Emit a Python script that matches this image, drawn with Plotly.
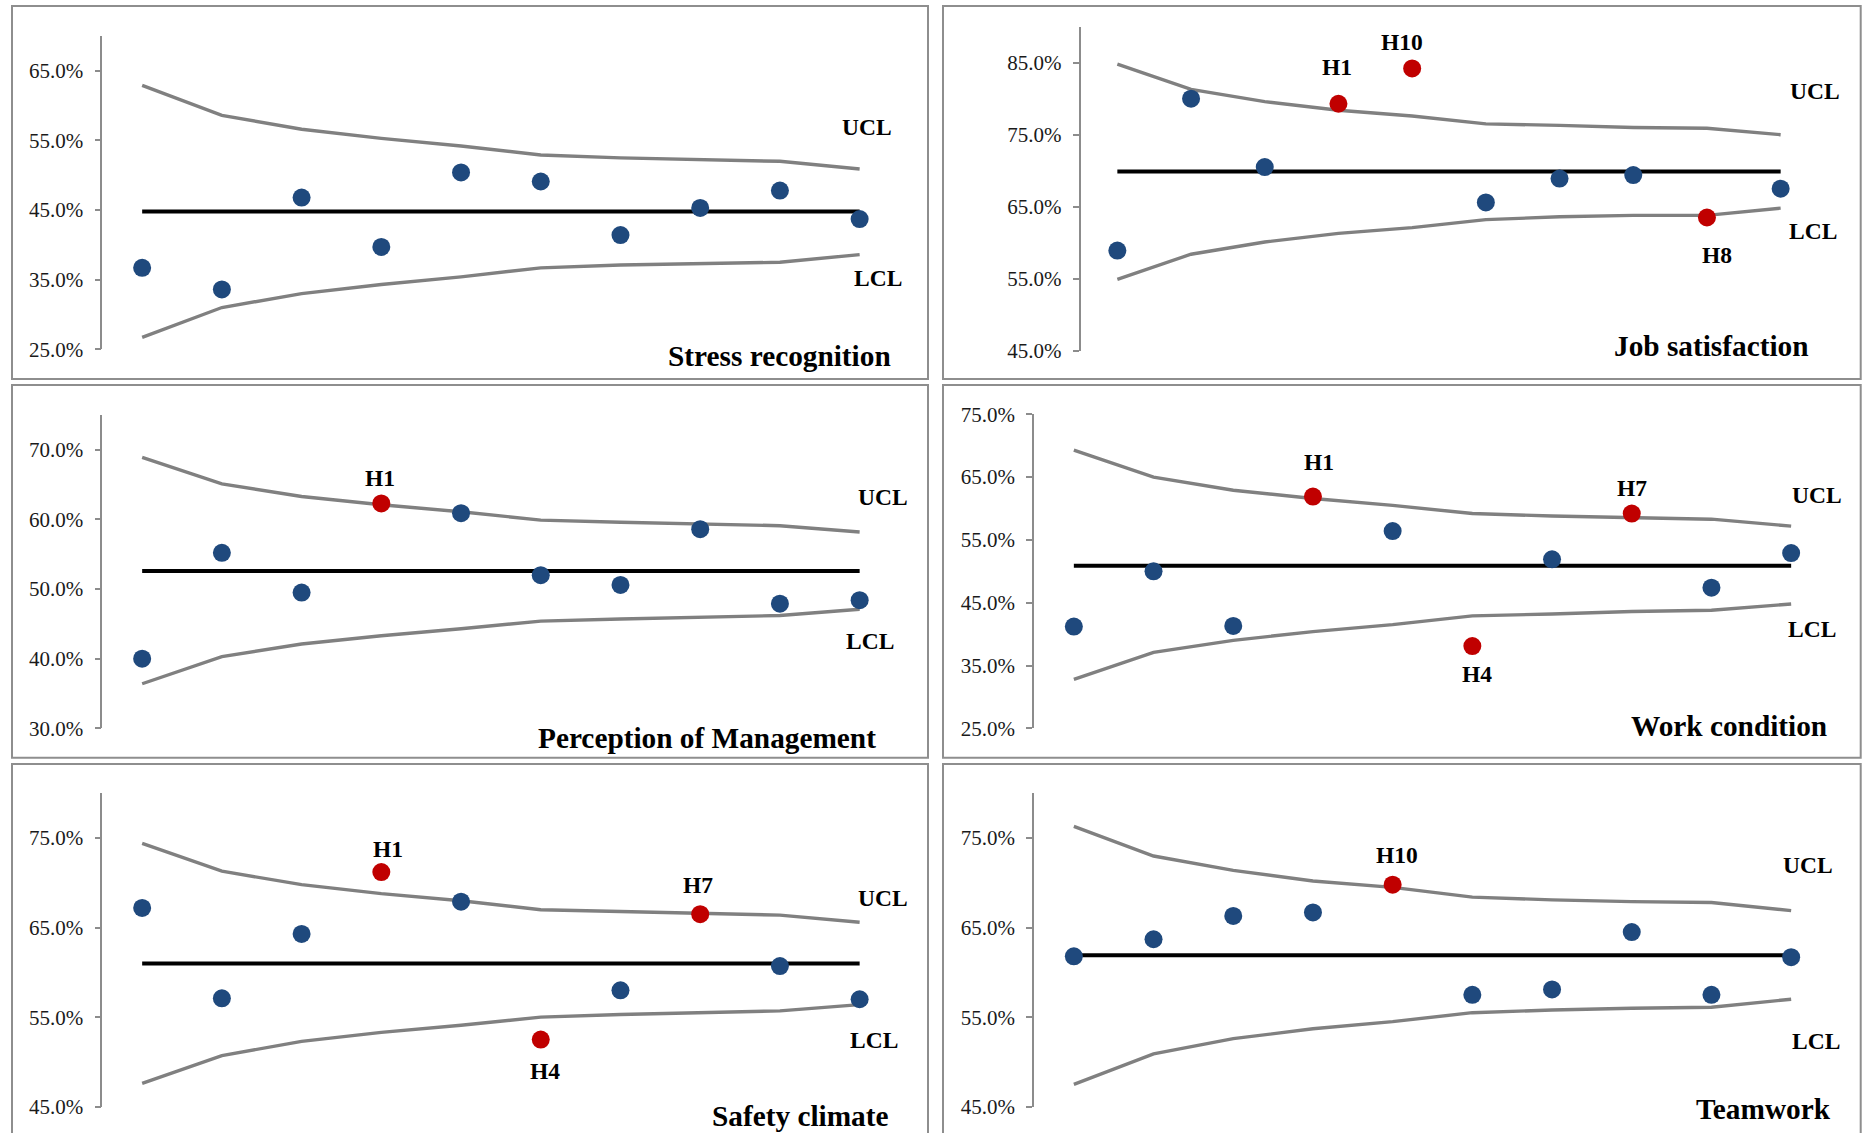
import plotly.graph_objects as go

# ---------------------------------------------------------------- data
# Ten hospitals per panel, ordered by sample size (control limits narrow left to right)
positions = [1, 2, 3, 4, 5, 6, 7, 8, 9, 10]

stress_values = [36.7, 33.6, 46.8, 39.7, 50.4, 49.1, 41.4, 45.3, 47.8, 43.7]
stress_center = 44.8
stress_ucl = [62.9, 58.6, 56.6, 55.3, 54.2, 52.9, 52.5, 52.2, 52.0, 50.9]
stress_lcl = [26.7, 31.0, 33.0, 34.3, 35.4, 36.7, 37.1, 37.3, 37.5, 38.6]
stress_ticks = [25, 35, 45, 55, 65]
stress_flag_idx = []
stress_flag_text = []

job_values = [58.9, 80.0, 70.5, 79.3, 84.2, 65.6, 68.9, 69.4, 63.5, 67.5]
job_center = 69.9
job_ucl = [84.8, 81.3, 79.6, 78.4, 77.6, 76.5, 76.3, 76.0, 75.9, 75.0]
job_lcl = [54.9, 58.4, 60.1, 61.3, 62.1, 63.2, 63.6, 63.8, 63.8, 64.8]
job_ticks = [45, 55, 65, 75, 85]
job_flag_idx = [3, 4, 8]
job_flag_text = ["H1", "H10", "H8"]

mgmt_values = [40.0, 55.2, 49.5, 62.3, 60.9, 52.0, 50.6, 58.6, 47.9, 48.4]
mgmt_center = 52.6
mgmt_ucl = [68.9, 65.1, 63.3, 62.1, 61.1, 59.9, 59.6, 59.3, 59.1, 58.2]
mgmt_lcl = [36.4, 40.3, 42.1, 43.3, 44.3, 45.4, 45.7, 46.0, 46.2, 47.1]
mgmt_ticks = [30, 40, 50, 60, 70]
mgmt_flag_idx = [3]
mgmt_flag_text = ["H1"]

work_values = [41.2, 50.0, 41.3, 61.9, 56.4, 38.1, 51.9, 59.2, 47.4, 52.9]
work_center = 50.9
work_ucl = [69.3, 65.0, 62.9, 61.6, 60.5, 59.2, 58.8, 58.5, 58.3, 57.2]
work_lcl = [32.8, 37.1, 39.0, 40.4, 41.5, 42.9, 43.2, 43.6, 43.8, 44.8]
work_ticks = [25, 35, 45, 55, 65, 75]
work_flag_idx = [3, 5, 7]
work_flag_text = ["H1", "H4", "H7"]

safety_values = [67.2, 57.1, 64.3, 71.2, 67.9, 52.5, 58.0, 66.5, 60.7, 57.0]
safety_center = 61.0
safety_ucl = [74.4, 71.3, 69.8, 68.8, 68.0, 67.0, 66.8, 66.6, 66.4, 65.6]
safety_lcl = [47.6, 50.7, 52.3, 53.3, 54.1, 55.0, 55.3, 55.5, 55.7, 56.4]
safety_ticks = [45, 55, 65, 75]
safety_flag_idx = [3, 5, 7]
safety_flag_text = ["H1", "H4", "H7"]

team_values = [61.8, 63.7, 66.3, 66.7, 69.8, 57.5, 58.1, 64.5, 57.5, 61.7]
team_center = 61.9
team_ucl = [76.3, 73.0, 71.4, 70.2, 69.5, 68.4, 68.1, 67.9, 67.8, 66.9]
team_lcl = [47.5, 50.9, 52.6, 53.7, 54.5, 55.5, 55.8, 56.0, 56.1, 57.0]
team_ticks = [45, 55, 65, 75]
team_flag_idx = [4]
team_flag_text = ["H10"]

# ---------------------------------------------------------------- styling
W, H = 1865, 1133
FONT = "Liberation Serif, Times New Roman, serif"
BLUE = "#1F497D"
RED = "#C00000"
LIMIT_GREY = "#808080"
AXIS_GREY = "#8C8C8C"
FRAME_GREY = "#8E8E8E"


def px_x(x):
    return x / W


def px_y(y):
    return 1 - y / H


panels = [
    dict(title="Stress recognition", values=stress_values, center=stress_center,
         ucl=stress_ucl, lcl=stress_lcl, ticks=stress_ticks, yrange=[25, 70],
         flag_idx=stress_flag_idx, flag_text=stress_flag_text,
         dom_x=(102.3, 899.5), dom_y=(36, 349.3),
         ucl_pos=(867, 126.7), lcl_pos=(877.7, 278.3), title_pos=(779.3, 356),
         offsets=[]),
    dict(title="Job satisfaction", values=job_values, center=job_center,
         ucl=job_ucl, lcl=job_lcl, ticks=job_ticks, yrange=[45, 90],
         flag_idx=job_flag_idx, flag_text=job_flag_text,
         dom_x=(1080.5, 1817.5), dom_y=(26.7, 350.7),
         ucl_pos=(1814.7, 90.7), lcl_pos=(1812.5, 231), title_pos=(1711.7, 345.7),
         offsets=[(-1, -37), (-10, -26), (10, 37)]),
    dict(title="Perception of Management", values=mgmt_values, center=mgmt_center,
         ucl=mgmt_ucl, lcl=mgmt_lcl, ticks=mgmt_ticks, yrange=[30, 75],
         flag_idx=mgmt_flag_idx, flag_text=mgmt_flag_text,
         dom_x=(102.3, 899.5), dom_y=(415, 728.3),
         ucl_pos=(882.8, 497), lcl_pos=(870, 641.3), title_pos=(706.5, 738),
         offsets=[(-1.5, -25.5)]),
    dict(title="Work condition", values=work_values, center=work_center,
         ucl=work_ucl, lcl=work_lcl, ticks=work_ticks, yrange=[25, 75],
         flag_idx=work_flag_idx, flag_text=work_flag_text,
         dom_x=(1034, 1831), dom_y=(414.3, 728.3),
         ucl_pos=(1817.3, 495.3), lcl_pos=(1812, 628.7), title_pos=(1729.2, 725.7),
         offsets=[(6, -34.5), (5, 28), (0, -26)]),
    dict(title="Safety climate", values=safety_values, center=safety_center,
         ucl=safety_ucl, lcl=safety_lcl, ticks=safety_ticks, yrange=[45, 80],
         flag_idx=safety_flag_idx, flag_text=safety_flag_text,
         dom_x=(102.3, 899.5), dom_y=(793.3, 1106.7),
         ucl_pos=(882.8, 897.7), lcl_pos=(873.8, 1040), title_pos=(800.4, 1116),
         offsets=[(7, -22.7), (4, 31.6), (-2, -29)]),
    dict(title="Teamwork", values=team_values, center=team_center,
         ucl=team_ucl, lcl=team_lcl, ticks=team_ticks, yrange=[45, 80],
         flag_idx=team_flag_idx, flag_text=team_flag_text,
         dom_x=(1034, 1831), dom_y=(793.3, 1106.7),
         ucl_pos=(1807.7, 865), lcl_pos=(1815.8, 1041), title_pos=(1763.3, 1109.3),
         offsets=[(4, -30)]),
]

fig = go.Figure()
annotations = []
shapes = []
layout_axes = {}

for i, p in enumerate(panels, start=1):
    xa = "x" if i == 1 else f"x{i}"
    ya = "y" if i == 1 else f"y{i}"
    xkey = "xaxis" if i == 1 else f"xaxis{i}"
    ykey = "yaxis" if i == 1 else f"yaxis{i}"

    # control limits
    for limit in (p["ucl"], p["lcl"]):
        fig.add_trace(go.Scatter(
            x=positions, y=limit, mode="lines", xaxis=xa, yaxis=ya,
            line=dict(color=LIMIT_GREY, width=3.4), hoverinfo="skip",
            showlegend=False))
    # centre line
    fig.add_trace(go.Scatter(
        x=[positions[0], positions[-1]], y=[p["center"], p["center"]],
        mode="lines", xaxis=xa, yaxis=ya,
        line=dict(color="black", width=4), hoverinfo="skip", showlegend=False))
    # hospital proportions
    colors = [RED if k in p["flag_idx"] else BLUE for k in range(len(p["values"]))]
    fig.add_trace(go.Scatter(
        x=positions, y=p["values"], mode="markers", xaxis=xa, yaxis=ya,
        marker=dict(size=18, color=colors, line=dict(width=0)),
        showlegend=False))

    # labels for the out-of-control hospitals
    for k, txt, (dx, dy) in zip(p["flag_idx"], p["flag_text"], p["offsets"]):
        annotations.append(dict(
            x=positions[k], y=p["values"][k], xref=xa, yref=ya, text=txt,
            showarrow=False, xshift=dx, yshift=-dy, xanchor="center", yanchor="middle",
            font=dict(family=FONT, size=23.5, color="black", weight="bold")))

    for txt, pos, size in (("UCL", p["ucl_pos"], 23.5), ("LCL", p["lcl_pos"], 23.5),
                           (p["title"], p["title_pos"], 29.3)):
        annotations.append(dict(
            x=px_x(pos[0]), y=px_y(pos[1]), xref="paper", yref="paper", text=txt,
            showarrow=False, xanchor="center", yanchor="middle",
            font=dict(family=FONT, size=size, color="black", weight="bold")))

    layout_axes[xkey] = dict(
        domain=[px_x(p["dom_x"][0]), px_x(p["dom_x"][1])],
        range=[0.5, 10.5], visible=False, anchor=ya, fixedrange=True,
        automargin=False)
    layout_axes[ykey] = dict(
        domain=[px_y(p["dom_y"][1]), px_y(p["dom_y"][0])],
        range=p["yrange"], anchor=xa, tickvals=p["ticks"],
        ticktext=[f"{t:.1f}%" for t in p["ticks"]],
        showline=True, linecolor=AXIS_GREY, linewidth=1.6,
        ticks="outside", ticklen=6, tickwidth=1.6, tickcolor=AXIS_GREY,
        ticklabelstandoff=7, automargin=False,
        showgrid=False, zeroline=False, fixedrange=True,
        tickfont=dict(family=FONT, size=21, color="#1a1a1a"))

# panel frames
col_x = [(12, 928), (943, 1860.7)]
row_y = [(6, 379), (385, 757.7), (764, 1150)]
for r in row_y:
    for c in col_x:
        shapes.append(dict(
            type="rect", xref="paper", yref="paper",
            x0=px_x(c[0]), x1=px_x(c[1]), y0=px_y(r[1]), y1=px_y(r[0]),
            line=dict(color=FRAME_GREY, width=2), fillcolor="rgba(0,0,0,0)", layer="below"))

fig.update_layout(
    width=W, height=H, margin=dict(l=0, r=0, t=0, b=0, pad=0, autoexpand=False),
    paper_bgcolor="white", plot_bgcolor="rgba(0,0,0,0)",
    annotations=annotations, shapes=shapes, showlegend=False,
    **layout_axes)

fig.write_html("out.html")
